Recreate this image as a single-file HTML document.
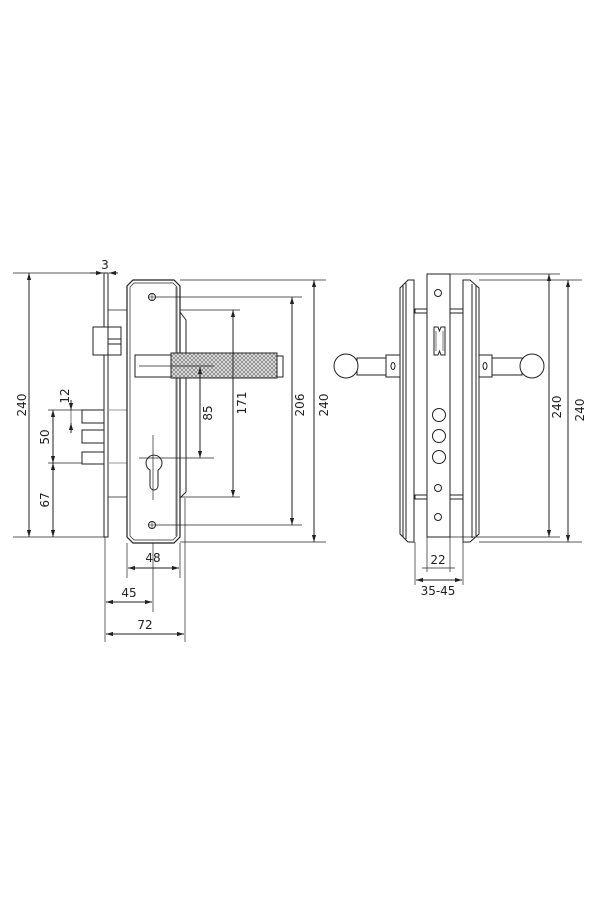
<!DOCTYPE html>
<html><head><meta charset="utf-8"><style>
html,body{margin:0;padding:0;background:#fff;width:600px;height:900px;overflow:hidden}
svg{display:block}
text{font-family:"DejaVu Sans","Liberation Sans",sans-serif;font-size:12px;fill:#222}
</style></head><body>
<svg width="600" height="900" viewBox="0 0 600 900" xmlns="http://www.w3.org/2000/svg">
<defs>
<pattern id="kn" width="4" height="4" patternUnits="userSpaceOnUse">
<rect width="4" height="4" fill="#e6e6e6"/>
<path d="M0 0L4 4M4 0L0 4" stroke="#777" stroke-width="0.7"/>
</pattern>
<marker id="a" viewBox="0 0 10 10" refX="10" refY="5" markerWidth="7" markerHeight="7" orient="auto-start-reverse">
<path d="M0 2L10 5L0 8z" fill="#222"/>
</marker>
</defs>
<g stroke="#222" stroke-width="1" fill="none">
<!-- LEFT DRAWING -->
<!-- faceplate -->
<rect x="104" y="273" width="4" height="264" fill="#fff"/>
<!-- lock body lines -->
<line x1="108" y1="310" x2="240" y2="310" stroke-width="0.8"/>
<line x1="108" y1="497" x2="240" y2="497" stroke-width="0.8"/>
<!-- latch -->
<rect x="93" y="327" width="28" height="28" fill="#fff"/>
<line x1="108" y1="327" x2="108" y2="355"/>
<rect x="108" y="339" width="13" height="5"/>
<!-- bolts -->
<rect x="82" y="410" width="22" height="13"/>
<rect x="82" y="430" width="22" height="13"/>
<rect x="82" y="452" width="22" height="12"/>
<line x1="108" y1="410" x2="127" y2="410" stroke="#999"/>
<line x1="108" y1="463" x2="127" y2="463" stroke="#999"/>
<!-- bracket -->
<path d="M180 312L186 320V492L180 498"/>
<!-- trim plate -->
<path d="M133 280H174L180 286V537L174 543H133L127 537V286Z" fill="#fff" stroke-width="1.2"/>
<path d="M134 283H173L177 287V536L173 540H134L130 536V287Z" stroke-width="0.7"/>
<line x1="176" y1="287" x2="176" y2="536" stroke-width="0.6"/>
<!-- screws -->
<circle cx="152" cy="297" r="3.5"/><line x1="149" y1="297" x2="155" y2="297" stroke-width="0.6"/><line x1="152" y1="294" x2="152" y2="300" stroke-width="0.6"/>
<circle cx="152" cy="525" r="3.5"/><line x1="149" y1="525" x2="155" y2="525" stroke-width="0.6"/><line x1="152" y1="522" x2="152" y2="528" stroke-width="0.6"/>
<line x1="156" y1="297" x2="302" y2="297" stroke-width="0.8"/>
<line x1="156" y1="525" x2="302" y2="525" stroke-width="0.8"/>
<!-- handle -->
<rect x="135" y="355" width="36" height="22" fill="#fff"/>
<rect x="171" y="353" width="106" height="25" fill="url(#kn)"/>
<rect x="277" y="356" width="6" height="21" fill="#fff"/>
<line x1="139" y1="366" x2="214" y2="366" stroke-width="0.8"/>
<!-- keyhole -->
<path d="M150 470A8 8 0 1 1 158 470V486A4 4 0 0 1 150 486Z" fill="#fff"/>
<line x1="153" y1="435" x2="153" y2="500" stroke-width="0.7"/>
<line x1="139" y1="458" x2="214" y2="458" stroke-width="0.7"/>
<!-- top/bottom ext for 240 right -->
<line x1="180" y1="280" x2="326" y2="280" stroke-width="0.8"/>
<line x1="180" y1="542" x2="326" y2="542" stroke-width="0.8"/>
<!-- left ext lines -->
<line x1="13" y1="273" x2="104" y2="273" stroke-width="0.8"/>
<line x1="13" y1="537" x2="104" y2="537" stroke-width="0.8"/>
<line x1="48" y1="410" x2="82" y2="410" stroke-width="0.8"/>
<line x1="48" y1="463" x2="82" y2="463" stroke-width="0.8"/>
<!-- dims -->
<line x1="29" y1="273" x2="29" y2="537" marker-start="url(#a)" marker-end="url(#a)"/>
<line x1="53" y1="410" x2="53" y2="463" marker-start="url(#a)" marker-end="url(#a)"/>
<line x1="53" y1="463" x2="53" y2="537" marker-start="url(#a)" marker-end="url(#a)"/>
<line x1="71" y1="400" x2="71" y2="410" marker-end="url(#a)"/>
<line x1="71" y1="433" x2="71" y2="423" marker-end="url(#a)"/>
<line x1="71" y1="410" x2="71" y2="423" stroke-width="0.6"/>
<line x1="90" y1="273" x2="103" y2="273" marker-end="url(#a)"/>
<line x1="118" y1="273" x2="109" y2="273" marker-end="url(#a)"/>
<line x1="200" y1="367" x2="200" y2="458" marker-start="url(#a)" marker-end="url(#a)"/>
<line x1="233" y1="310" x2="233" y2="497" marker-start="url(#a)" marker-end="url(#a)"/>
<line x1="292" y1="297" x2="292" y2="525" marker-start="url(#a)" marker-end="url(#a)"/>
<line x1="314" y1="280" x2="314" y2="542" marker-start="url(#a)" marker-end="url(#a)"/>
<!-- bottom ext -->
<line x1="105" y1="537" x2="105" y2="642" stroke-width="0.7"/>
<line x1="127" y1="543" x2="127" y2="578" stroke-width="0.7"/>
<line x1="153" y1="543" x2="153" y2="612" stroke-width="0.7"/>
<line x1="180" y1="543" x2="180" y2="578" stroke-width="0.7"/>
<line x1="185" y1="498" x2="185" y2="642" stroke-width="0.7"/>
<line x1="128" y1="568" x2="179" y2="568" marker-start="url(#a)" marker-end="url(#a)"/>
<line x1="106" y1="602" x2="152" y2="602" marker-start="url(#a)" marker-end="url(#a)"/>
<line x1="106" y1="634" x2="184" y2="634" marker-start="url(#a)" marker-end="url(#a)"/>

<!-- RIGHT DRAWING -->
<!-- spacer bars -->
<rect x="415" y="309" width="12" height="4"/>
<rect x="450" y="309" width="13" height="4"/>
<rect x="415" y="495" width="12" height="4"/>
<rect x="450" y="495" width="13" height="4"/>
<!-- left trim -->
<path d="M414 280H408L400 288V534L408 542H414Z" fill="#fff"/>
<line x1="403" y1="285" x2="403" y2="537"/>
<line x1="406" y1="283" x2="406" y2="539"/>
<!-- right trim -->
<path d="M463 280H470L479 288V534L470 542H463Z" fill="#fff"/>
<line x1="472" y1="284" x2="472" y2="538"/>
<line x1="476" y1="286" x2="476" y2="536"/>
<!-- center plate -->
<rect x="427" y="274" width="23" height="263" fill="#fff"/>
<circle cx="438" cy="293" r="3.5"/>
<path d="M434 327H438L439.5 331L441 327H445V355H441L439.5 351L438 355H434Z"/>
<line x1="436" y1="331" x2="436" y2="351" stroke-width="0.6"/>
<line x1="443" y1="331" x2="443" y2="351" stroke-width="0.6"/>
<circle cx="439" cy="415" r="6.5"/>
<circle cx="439" cy="436" r="6.5"/>
<circle cx="439" cy="457" r="6.5"/>
<circle cx="438" cy="488" r="3.5"/>
<circle cx="438" cy="517" r="3.5"/>
<!-- left handle -->
<rect x="357" y="358" width="30" height="17" fill="#fff"/>
<circle cx="346" cy="366" r="12" fill="#fff"/>
<rect x="386" y="355" width="14" height="22" fill="#fff"/>
<ellipse cx="393" cy="366" rx="2" ry="3.5"/>
<!-- right handle -->
<rect x="491" y="358" width="31" height="17" fill="#fff"/>
<circle cx="532" cy="366" r="12" fill="#fff"/>
<rect x="479" y="355" width="13" height="22" fill="#fff"/>
<ellipse cx="485" cy="366" rx="2" ry="3.5"/>
<!-- ext lines -->
<line x1="450" y1="274" x2="560" y2="274" stroke-width="0.8"/>
<line x1="450" y1="537" x2="560" y2="537" stroke-width="0.8"/>
<line x1="479" y1="280" x2="582" y2="280" stroke-width="0.8"/>
<line x1="479" y1="542" x2="582" y2="542" stroke-width="0.8"/>
<line x1="549" y1="274" x2="549" y2="537" marker-start="url(#a)" marker-end="url(#a)"/>
<line x1="568" y1="280" x2="568" y2="542" marker-start="url(#a)" marker-end="url(#a)"/>
<line x1="415" y1="542" x2="415" y2="585" stroke-width="0.7"/>
<line x1="463" y1="542" x2="463" y2="585" stroke-width="0.7"/>
<line x1="427" y1="537" x2="427" y2="572" stroke-width="0.7"/>
<line x1="450" y1="537" x2="450" y2="572" stroke-width="0.7"/>
<line x1="422" y1="568" x2="455" y2="568" stroke-width="0.8"/>
<line x1="416" y1="580" x2="462" y2="580" marker-start="url(#a)" marker-end="url(#a)"/>
</g>
<!-- labels -->
<text x="105" y="269" text-anchor="middle">3</text>
<text transform="translate(26,405) rotate(-90)" text-anchor="middle">240</text>
<text transform="translate(69,396) rotate(-90)" text-anchor="middle">12</text>
<text transform="translate(49,437) rotate(-90)" text-anchor="middle">50</text>
<text transform="translate(49,500) rotate(-90)" text-anchor="middle">67</text>
<text transform="translate(212,413) rotate(-90)" text-anchor="middle">85</text>
<text transform="translate(246,403) rotate(-90)" text-anchor="middle">171</text>
<text transform="translate(304,405) rotate(-90)" text-anchor="middle">206</text>
<text transform="translate(328,405) rotate(-90)" text-anchor="middle">240</text>
<text x="153" y="562" text-anchor="middle">48</text>
<text x="129" y="597" text-anchor="middle">45</text>
<text x="145" y="629" text-anchor="middle">72</text>
<text transform="translate(561,407) rotate(-90)" text-anchor="middle">240</text>
<text transform="translate(584,410) rotate(-90)" text-anchor="middle">240</text>
<text x="438" y="564" text-anchor="middle">22</text>
<text x="438" y="595" text-anchor="middle">35-45</text>
</svg>
</body></html>
